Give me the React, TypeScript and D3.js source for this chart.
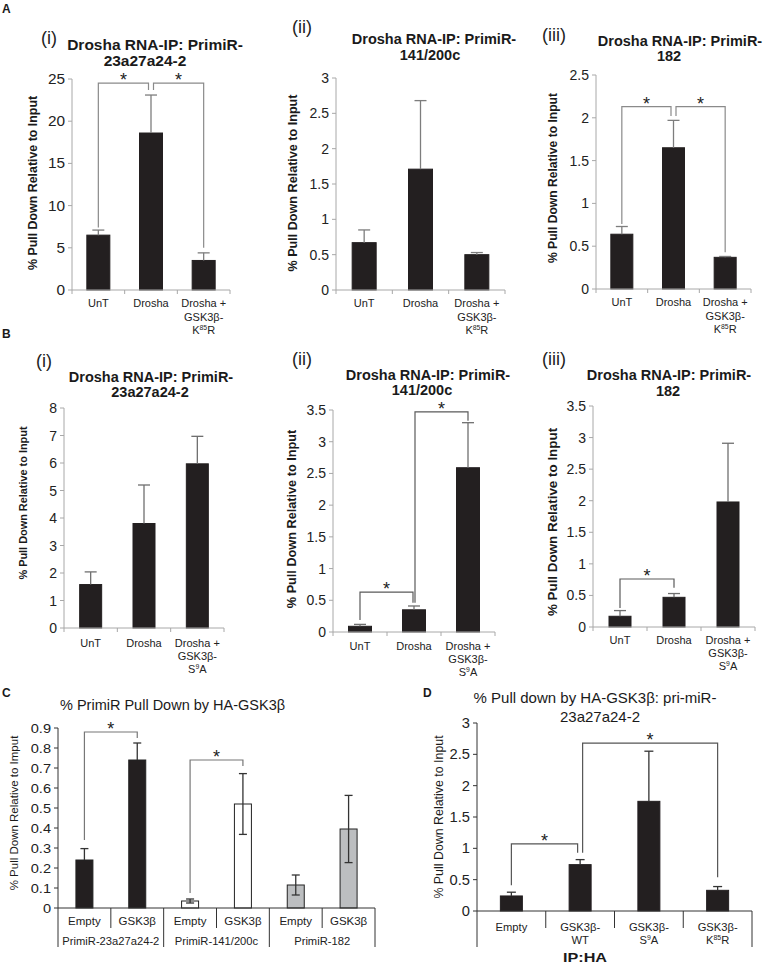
import React from "react";
import * as d3 from "d3";

// ---------------- DATA ----------------
const A_CATEGORIES = [["UnT"], ["Drosha"], ["Drosha +", "GSK3β-", "K^85^R"]];
const B_CATEGORIES = [["UnT"], ["Drosha"], ["Drosha +", "GSK3β-", "S^9^A"]];

const A1_VALUES = [6.5, 18.6, 3.5];
const A1_ERRORS = [0.6, 4.5, 0.9];
const A2_VALUES = [0.67, 1.71, 0.5];
const A2_ERRORS = [0.18, 0.97, 0.03];
const A3_VALUES = [0.64, 1.65, 0.37];
const A3_ERRORS = [0.09, 0.32, 0.01];

const B1_VALUES = [1.58, 3.8, 5.97];
const B1_ERRORS = [0.46, 1.4, 1.0];
const B2_VALUES = [0.09, 0.35, 2.59];
const B2_ERRORS = [0.03, 0.06, 0.71];
const B3_VALUES = [0.17, 0.47, 1.98];
const B3_ERRORS = [0.09, 0.06, 0.93];

const C_SUBLABELS = ["Empty", "GSK3β", "Empty", "GSK3β", "Empty", "GSK3β"];
const C_GROUPS = ["PrimiR-23a27a24-2", "PrimiR-141/200c", "PrimiR-182"];
const C_GROUP_FILLS = ["#231f20", "#ffffff", "#bcbec0"];
const C_VALUES = [0.24, 0.74, 0.035, 0.52, 0.115, 0.395];
const C_ERRORS = [0.057, 0.085, 0.01, 0.152, 0.05, 0.168];

const D_CATEGORIES = [["Empty"], ["GSK3β-", "WT"], ["GSK3β-", "S^9^A"], ["GSK3β-", "K^85^R"]];
const D_VALUES = [0.24, 0.74, 1.75, 0.33];
const D_ERRORS = [0.06, 0.08, 0.8, 0.06];

type Bracket = { from: number; to: number; level: number; fromEnd: number; toEnd: number };
const A1_BRACKETS: Bracket[] = [
  { from: 0, to: 1, level: 24.5, fromEnd: 7.4, toEnd: 23.7 },
  { from: 1, to: 2, level: 24.5, fromEnd: 23.7, toEnd: 5.0 },
];
const A3_BRACKETS: Bracket[] = [
  { from: 0, to: 1, level: 2.13, fromEnd: 0.76, toEnd: 2.02 },
  { from: 1, to: 2, level: 2.13, fromEnd: 2.02, toEnd: 0.43 },
];
const B2_BRACKETS: Bracket[] = [
  { from: 0, to: 1, level: 0.63, fromEnd: 0.19, toEnd: 0.46 },
  { from: 1, to: 2, level: 3.47, fromEnd: 0.46, toEnd: 3.33 },
];
const B3_BRACKETS: Bracket[] = [{ from: 0, to: 1, level: 0.76, fromEnd: 0.3, toEnd: 0.62 }];
const C_BRACKETS: Bracket[] = [
  { from: 0, to: 1, level: 0.88, fromEnd: 0.34, toEnd: 0.85 },
  { from: 2, to: 3, level: 0.74, fromEnd: 0.075, toEnd: 0.71 },
];
const D_BRACKETS: Bracket[] = [
  { from: 0, to: 1, level: 1.07, fromEnd: 0.41, toEnd: 0.93 },
  { from: 1, to: 3, level: 2.68, fromEnd: 0.93, toEnd: 0.54 },
];

// ---------------- HELPERS ----------------
const FONT = "'Liberation Sans', Arial, Helvetica, sans-serif";
const INK = "#1a1a1a";

function Rich(props: any) {
  const { x, y, s, size, anchor = "middle", weight = "normal", fill = INK, rotate, sx = 1 } = props;
  const parts: string[] = s.split("^");
  const sup = size * 0.62;
  const shift = size * 0.38;
  const tf = `translate(${x},${y}) scale(${sx},1)${rotate ? ` rotate(${rotate})` : ""}`;
  return (
    <text transform={tf} fontSize={size} fontWeight={weight} fontFamily={FONT} textAnchor={anchor} fill={fill}>
      {parts.map((p, i) =>
        i % 2 === 1 ? (
          <tspan key={i} fontSize={sup} dy={-shift}>
            {p}
          </tspan>
        ) : (
          <tspan key={i} dy={i > 0 ? shift : 0}>
            {p}
          </tspan>
        )
      )}
    </text>
  );
}

const fmt = (t: number) => String(+t.toFixed(3));

function Chart(p: any) {
  const n = p.values.length;
  const x = d3.scaleBand<number>().domain(d3.range(n)).range([p.left, p.right]);
  const y = d3.scaleLinear().domain([0, p.max]).range([p.y0, p.yTop]);
  const ticks = d3.range(0, p.max + p.step / 2, p.step);
  const cx = (i: number) => (x(i) as number) + x.bandwidth() / 2;
  const brackets: Bracket[] = p.brackets || [];
  const shared = p.shared ?? 2.5;
  const cap = p.cap ?? 5;
  const fills: string[] = p.fills || p.values.map(() => "#231f20");
  const twoSided: boolean[] = p.twoSided || p.values.map(() => false);
  return (
    <g>
      <line x1={p.left} x2={p.left} y1={p.y0} y2={p.yTop} stroke={p.axisColor} strokeWidth={1} />
      {ticks.map((t: number, i: number) => (
        <g key={i}>
          <line x1={p.left - 4} x2={p.left} y1={y(t)} y2={y(t)} stroke={p.axisColor} />
          <Rich
            x={p.left - 7}
            y={y(t) + p.tickFont * 0.36}
            s={fmt(t)}
            size={p.tickFont}
            anchor="end"
            fill="#222"
            sx={p.tickSx || 1}
          />
        </g>
      ))}
      {p.values.map((v: number, i: number) => (
        <rect
          key={i}
          x={cx(i) - p.barWidth / 2}
          width={p.barWidth}
          y={y(v)}
          height={p.y0 - y(v)}
          fill={fills[i]}
          stroke={p.barStroke || "#231f20"}
          strokeWidth={1}
        />
      ))}
      <line x1={p.left} x2={p.right} y1={p.y0} y2={p.y0} stroke={p.axisColor} strokeWidth={1} />
      {p.xTicks &&
        d3.range(n + 1).map((i) => {
          const xx = p.left + i * x.bandwidth();
          return <line key={i} x1={xx} x2={xx} y1={p.y0} y2={p.y0 + 4} stroke={p.axisColor} />;
        })}
      {p.values.map((v: number, i: number) => {
        const e = p.errors[i];
        const lo = twoSided[i] ? v - e : v;
        return (
          <g key={i} stroke={p.errColor} strokeWidth={1.3}>
            <line x1={cx(i)} x2={cx(i)} y1={y(lo)} y2={y(v + e)} />
            <line x1={cx(i) - cap} x2={cx(i) + cap} y1={y(v + e)} y2={y(v + e)} />
            {twoSided[i] && <line x1={cx(i) - cap} x2={cx(i) + cap} y1={y(lo)} y2={y(lo)} />}
          </g>
        );
      })}
      {brackets.map((b, k) => {
        const fromShared = brackets.some((o, j) => j !== k && o.to === b.from);
        const toShared = brackets.some((o, j) => j !== k && o.from === b.to);
        const xf = cx(b.from) + (fromShared ? shared : 0);
        const xt = cx(b.to) - (toShared ? shared : 0);
        const path = `M${xf},${y(b.fromEnd)}V${y(b.level)}H${xt}V${y(b.toEnd)}`;
        return (
          <g key={k}>
            <path d={path} fill="none" stroke={p.bracketColor} strokeWidth={1.2} />
            <text x={(xf + xt) / 2} y={y(b.level) + 3} fontSize={18} fontFamily={FONT} textAnchor="middle" fill="#222">
              *
            </text>
          </g>
        );
      })}
      {p.catLabels &&
        p.catLabels.map((lines: string[], i: number) =>
          lines.map((ln: string, j: number) => (
            <Rich
              key={`${i}-${j}`}
              x={cx(i)}
              y={p.y0 + p.catDy + j * p.catLineH}
              s={ln}
              size={p.catFont}
              fill="#222"
            />
          ))
        )}
    </g>
  );
}

function Titles(p: any) {
  return (
    <g>
      <Rich x={p.numX} y={p.numY} s={p.num} size={18} anchor="start" fill="#222" />
      <Rich x={p.l1x} y={p.l1y} s="Drosha RNA-IP: PrimiR-" size={p.size} weight="bold" />
      <Rich x={p.l2x} y={p.l2y} s={p.line2} size={p.size} weight="bold" />
    </g>
  );
}

const GREY_AXIS = "#a8a8a8";

export default function App() {
  const cLeft = 58, cRight = 375, cY0 = 908;
  const cBand = d3.scaleBand<number>().domain(d3.range(C_VALUES.length)).range([cLeft, cRight]);
  const dLeft = 477, dRight = 752, dY0 = 911;
  const dBand = d3.scaleBand<number>().domain(d3.range(D_VALUES.length)).range([dLeft, dRight]);
  const cFills = C_VALUES.map((_, i) => C_GROUP_FILLS[Math.floor(i / 2)]);

  return (
    <svg width={769} height={966} style={{ position: "absolute", left: 0, top: 0, background: "#fff" }} fontFamily={FONT}>
      <rect width={769} height={966} fill="#fff" />
      <Rich x={2} y={13} s="A" size={12} weight="bold" anchor="start" />
      <Rich x={2} y={338} s="B" size={12} weight="bold" anchor="start" />
      <Rich x={2} y={697} s="C" size={12} weight="bold" anchor="start" />
      <Rich x={423} y={697} s="D" size={12} weight="bold" anchor="start" />

      {/* ---------- A(i) ---------- */}
      <Titles num="(i)" numX={41} numY={44} l1x={155} l1y={50} l2x={145} l2y={66} line2="23a27a24-2" size={15.5} />
      <Rich x={37} y={183} s="% Pull Down Relative to Input" size={12.4} weight="bold" rotate={-90} />
      <Chart
        left={72} right={230} y0={290} yTop={79} max={25} step={5}
        values={A1_VALUES} errors={A1_ERRORS} barWidth={23}
        brackets={A1_BRACKETS} shared={2.5}
        axisColor={GREY_AXIS} errColor="#7d7d7d" bracketColor="#8a8a8a"
        tickFont={14} tickSx={1.1} xTicks cap={6}
        catLabels={A_CATEGORIES} catFont={11} catDy={17} catLineH={13.5}
      />

      {/* ---------- A(ii) ---------- */}
      <Titles num="(ii)" numX={292} numY={33} l1x={434} l1y={44} l2x={430} l2y={60} line2="141/200c" size={14.5} />
      <Rich x={297} y={183} s="% Pull Down Relative to Input" size={12.6} weight="bold" rotate={-90} />
      <Chart
        left={336} right={505} y0={290} yTop={78} max={3} step={0.5}
        values={A2_VALUES} errors={A2_ERRORS} barWidth={24}
        axisColor={GREY_AXIS} errColor="#7d7d7d" bracketColor="#8a8a8a"
        tickFont={14} xTicks cap={6}
        catLabels={A_CATEGORIES} catFont={11} catDy={17} catLineH={13.5}
      />

      {/* ---------- A(iii) ---------- */}
      <Titles num="(iii)" numX={542} numY={41} l1x={680} l1y={46} l2x={669} l2y={61} line2="182" size={14.5} />
      <Rich x={557} y={178} s="% Pull Down Relative to Input" size={12.1} weight="bold" rotate={-90} />
      <Chart
        left={596} right={751} y0={289} yTop={75} max={2.5} step={0.5}
        values={A3_VALUES} errors={A3_ERRORS} barWidth={22}
        brackets={A3_BRACKETS} shared={2.5}
        axisColor={GREY_AXIS} errColor="#7d7d7d" bracketColor="#8a8a8a"
        tickFont={14} xTicks cap={6}
        catLabels={A_CATEGORIES} catFont={11} catDy={17} catLineH={13.5}
      />

      {/* ---------- B(i) ---------- */}
      <Titles num="(i)" numX={36} numY={367} l1x={151} l1y={382} l2x={150} l2y={397} line2="23a27a24-2" size={14.5} />
      <Rich x={27} y={503} s="% Pull Down Relative to Input" size={10.9} weight="bold" rotate={-90} />
      <Chart
        left={64} right={224} y0={628} yTop={408} max={8} step={1}
        values={B1_VALUES} errors={B1_ERRORS} barWidth={22}
        axisColor={GREY_AXIS} errColor="#6f6f6f" bracketColor="#6f6f6f"
        tickFont={14} xTicks cap={6}
        catLabels={B_CATEGORIES} catFont={11} catDy={19} catLineH={13}
      />

      {/* ---------- B(ii) ---------- */}
      <Titles num="(ii)" numX={292} numY={365} l1x={428} l1y={380} l2x={422} l2y={395} line2="141/200c" size={14.5} />
      <Rich x={296} y={519} s="% Pull Down Relative to Input" size={12.7} weight="bold" rotate={-90} />
      <Chart
        left={333} right={495} y0={632} yTop={410} max={3.5} step={0.5}
        values={B2_VALUES} errors={B2_ERRORS} barWidth={23}
        brackets={B2_BRACKETS} shared={1}
        axisColor={GREY_AXIS} errColor="#6f6f6f" bracketColor="#5a5a5a"
        tickFont={14} xTicks cap={6}
        catLabels={B_CATEGORIES} catFont={11} catDy={18} catLineH={13}
      />

      {/* ---------- B(iii) ---------- */}
      <Titles num="(iii)" numX={542} numY={365} l1x={669} l1y={380} l2x={668} l2y={396} line2="182" size={14.5} />
      <Rich x={557} y={522} s="% Pull Down Relative to Input" size={13.4} weight="bold" rotate={-90} />
      <Chart
        left={593} right={755} y0={627} yTop={406} max={3.5} step={0.5}
        values={B3_VALUES} errors={B3_ERRORS} barWidth={22}
        brackets={B3_BRACKETS}
        axisColor={GREY_AXIS} errColor="#6f6f6f" bracketColor="#5a5a5a"
        tickFont={14} xTicks cap={6}
        catLabels={B_CATEGORIES} catFont={11} catDy={17} catLineH={13}
      />

      {/* ---------- C ---------- */}
      <Rich x={60} y={710} s="% PrimiR Pull Down by HA-GSK3β" size={14.5} anchor="start" />
      <Rich x={18} y={813} s="% Pull Down Relative to Imput" size={11.5} rotate={-90} />
      <Chart
        left={cLeft} right={cRight} y0={cY0} yTop={728} max={0.9} step={0.1}
        values={C_VALUES} errors={C_ERRORS} barWidth={17}
        fills={cFills} twoSided={[false, false, true, true, true, true]}
        brackets={C_BRACKETS}
        axisColor="#333" errColor="#333" bracketColor="#777" barStroke="#222"
        tickFont={13.5} tickSx={1.08} cap={4}
      />
      {d3.range(C_VALUES.length + 1).map((i) => {
        const xx = cLeft + i * cBand.bandwidth();
        const groupEdge = i % 2 === 0;
        return <line key={i} x1={xx} x2={xx} y1={cY0} y2={groupEdge ? 947 : 928} stroke="#333" strokeWidth={1} />;
      })}
      {C_SUBLABELS.map((s, i) => (
        <Rich key={i} x={(cBand(i) as number) + cBand.bandwidth() / 2} y={925} s={s} size={11.5} fill="#222" />
      ))}
      {C_GROUPS.map((g, k) => (
        <Rich key={k} x={(cBand(2 * k) as number) + cBand.bandwidth()} y={945} s={g} size={11.2} fill="#222" />
      ))}

      {/* ---------- D ---------- */}
      <Rich x={595} y={703} s="% Pull down by HA-GSK3β: pri-miR-" size={15} />
      <Rich x={600} y={722} s="23a27a24-2" size={15} />
      <Rich x={443} y={817} s="% Pull Down Relative to Input" size={12.4} rotate={-90} />
      <Chart
        left={dLeft} right={dRight} y0={dY0} yTop={723} max={3} step={0.5}
        values={D_VALUES} errors={D_ERRORS} barWidth={22}
        brackets={D_BRACKETS} shared={2.5}
        axisColor="#333" errColor="#333" bracketColor="#555"
        tickFont={14} tickSx={1.05} cap={4.5}
        catLabels={D_CATEGORIES} catFont={11.2} catDy={20} catLineH={13}
      />
      {d3.range(D_VALUES.length + 1).map((i) => {
        const xx = dLeft + i * dBand.bandwidth();
        const edge = i === 0 || i === D_VALUES.length;
        return <line key={i} x1={xx} x2={xx} y1={dY0} y2={edge ? 947 : 928} stroke="#333" strokeWidth={1} />;
      })}
      <Rich x={585} y={962} s="IP:HA" size={13.5} weight="bold" sx={1.2} />
    </svg>
  );
}
